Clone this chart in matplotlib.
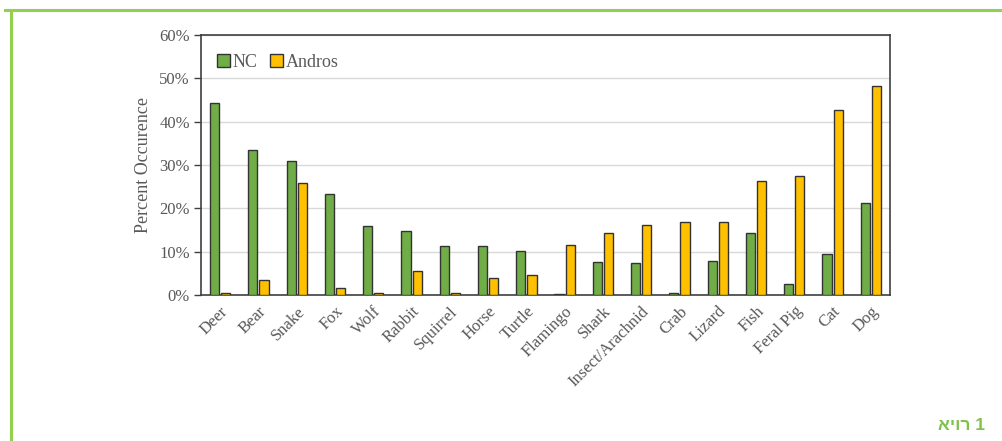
import matplotlib
matplotlib.use("Agg")
import matplotlib.pyplot as plt
import numpy as np
from matplotlib.lines import Line2D
from matplotlib.ticker import FuncFormatter

categories = ["Deer", "Bear", "Snake", "Fox", "Wolf", "Rabbit", "Squirrel", "Horse",
              "Turtle", "Flamingo", "Shark", "Insect/Arachnid", "Crab", "Lizard",
              "Fish", "Feral Pig", "Cat", "Dog"]
nc = [44.2, 33.5, 31.0, 23.2, 15.9, 14.8, 11.3, 11.3, 10.2, 0.2, 7.5, 7.3, 0.4, 7.8,
      14.3, 2.5, 9.4, 21.2]
andros = [0.4, 3.5, 25.9, 1.5, 0.4, 5.6, 0.4, 4.0, 4.5, 11.6, 14.2, 16.2, 16.8, 16.8,
          26.4, 27.5, 42.7, 48.2]
yticks = [0, 10, 20, 30, 40, 50, 60]

plt.rcParams['font.family'] = ['Liberation Serif', 'DejaVu Serif']
gray = '#595959'

fig = plt.figure(figsize=(10.03, 4.41), dpi=100)
ax = fig.add_axes([0.2004, 0.3311, 0.6869, 0.5895])

x = np.arange(len(categories))
w = 0.24
ax.bar(x - 0.146, nc, w, color='#70AD47', edgecolor='#333333', linewidth=1.0, label='NC', zorder=3)
ax.bar(x + 0.146, andros, w, color='#FFC000', edgecolor='#333333', linewidth=1.0, label='Andros', zorder=3)

ax.set_xlim(-0.5, len(categories) - 0.5)
ax.set_ylim(0, 60)
ax.set_yticks(yticks)
ax.yaxis.set_major_formatter(FuncFormatter(lambda v, p: f"{int(v)}%"))
ax.yaxis.grid(True, color='#D9D9D9', linewidth=1.0, zorder=0)
ax.set_axisbelow(True)

ax.set_xticks(x)
ax.set_xticklabels(categories, rotation=45, ha='right', rotation_mode='anchor',
                   fontsize=12, color=gray)
ax.tick_params(axis='x', length=0, pad=6)
ax.tick_params(axis='y', length=5, width=1, color='#404040', labelsize=12, labelcolor=gray, pad=3)
for s in ax.spines.values():
    s.set_color('#404040')
    s.set_linewidth(1.2)

ax.set_ylabel('Percent Occurence', fontsize=13, color=gray, labelpad=5)

leg = ax.legend(loc='upper left', frameon=False, fontsize=13, handlelength=0.7,
                handleheight=0.7, handletextpad=0.15, columnspacing=0.7, ncol=2,
                bbox_to_anchor=(0.0, 0.99), borderaxespad=0.5)
for t in leg.get_texts():
    t.set_color(gray)

# Page frame lines
green = '#92D050'
fig.add_artist(Line2D([5 / 1003, 1.0], [1 - 10 / 441, 1 - 10 / 441],
                      transform=fig.transFigure, color=green, linewidth=2.2))
fig.add_artist(Line2D([11.3 / 1003, 11.3 / 1003], [0, 1 - 10 / 441],
                      transform=fig.transFigure, color=green, linewidth=2.2))

fig.text(985 / 1003, 1 - 425 / 441, "איור 1", ha='right', va='center',
         fontsize=12.5, fontweight='bold', color='#7DC24B',
         family=['Liberation Sans', 'DejaVu Sans'])

fig.savefig('out.png', dpi=100)
